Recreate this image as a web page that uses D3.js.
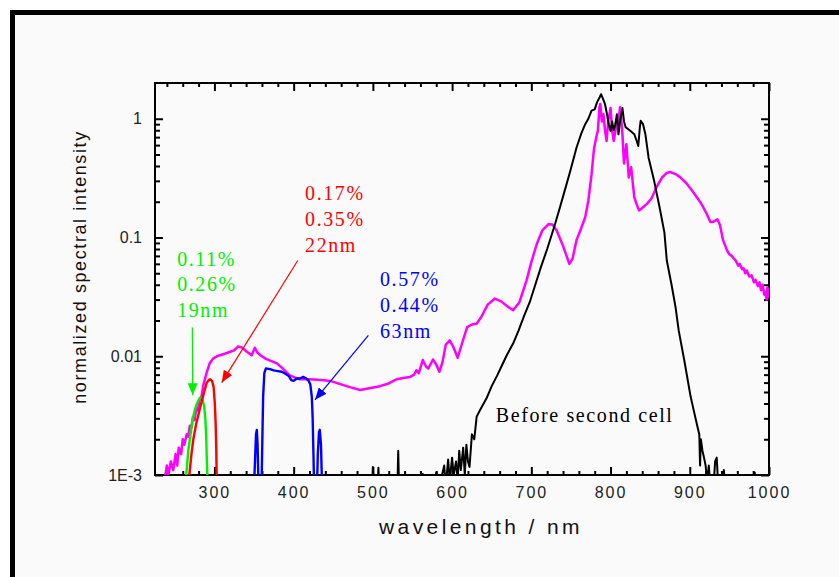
<!DOCTYPE html>
<html>
<head>
<meta charset="utf-8">
<script src="https://cdn.jsdelivr.net/npm/d3@7"></script>
<style>
  body { margin: 0; background: #ffffff; }
  svg { display: block; }
  .axis path, .axis line { stroke: #000; stroke-width: 2; }
  .axis text { font-family: "Liberation Sans", Arial, sans-serif; font-size: 16px; fill: #222; }
  .note { font-family: "Liberation Serif", "Times New Roman", serif; font-size: 20px; letter-spacing: 1.6px; }
</style>
</head>
<body>
<svg id="chart" width="839" height="577"></svg>
<script>
// spectra: [wavelength nm, normalized intensity]
const beforeCell = [
  [480, 0.0008], [499, 0.0008], [500, 0.00117], [501, 0.0008], [506, 0.0008], [507, 0.00115], [508, 0.0008],
  [531, 0.0008], [532, 0.0016], [533, 0.0008], [560, 0.0008], [563, 0.00102], [566, 0.0008], [578, 0.0008],
  [580, 0.00105], [584, 0.0008], [590, 0.0012], [592, 0.0008], [595, 0.00135], [597, 0.0009], [600, 0.0014],
  [602, 0.0010], [605, 0.0013], [607, 0.0009], [609, 0.0016], [611, 0.0011], [614, 0.0017], [616, 0.0010],
  [618, 0.0018], [620, 0.0013], [622, 0.00117], [625, 0.0022], [628, 0.0020], [631, 0.0031], [636, 0.0036],
  [644, 0.0045], [650, 0.0056], [657, 0.0069], [663, 0.0084], [669, 0.0102], [677, 0.0128], [684, 0.0165],
  [691, 0.022], [698, 0.0285], [705, 0.040], [712, 0.056], [720, 0.08], [730, 0.13], [736, 0.178],
  [741, 0.233], [749, 0.36], [757, 0.57], [763, 0.75], [768, 0.90], [772, 1.0], [776, 1.17], [780, 1.2],
  [783, 1.38], [786, 1.50], [788, 1.61], [790, 1.50], [793, 1.33], [796, 1.05], [798, 0.88], [800, 0.79],
  [802, 0.95], [804, 0.80], [806, 0.90], [808, 1.09], [810, 0.74], [812, 0.95], [815, 1.23], [817, 0.95],
  [819, 0.85], [822, 0.82], [826, 0.78], [830, 0.74], [833, 0.65], [835, 0.59], [837, 0.85], [838, 0.96],
  [841, 0.90], [844, 0.74], [848, 0.47], [855, 0.30], [862, 0.178], [868, 0.11], [871, 0.064], [877, 0.04],
  [882, 0.026], [886, 0.0165], [893, 0.0093], [901, 0.0046], [905, 0.0035], [910, 0.0025], [912, 0.0022],
  [913, 0.0012], [914, 0.0020], [916, 0.0016], [918, 0.0014], [920, 0.0012], [922, 0.0009], [924, 0.0012],
  [926, 0.0008], [930, 0.0008], [932, 0.0013], [934, 0.0014], [936, 0.0008], [941, 0.0008], [943, 0.0011],
  [945, 0.0008], [980, 0.0008], [982, 0.00105], [984, 0.0008]
];

const afterCell = [
  [237, 0.0009], [240, 0.0012], [242, 0.0010], [245, 0.0013], [248, 0.0011], [251, 0.0015], [253, 0.0012],
  [255, 0.0017], [258, 0.0015], [260, 0.0020], [262, 0.0018], [265, 0.0022], [267, 0.0021], [269, 0.0026],
  [271, 0.0025], [273, 0.0031], [275, 0.0029], [277, 0.0036], [279, 0.0035], [281, 0.0042], [284, 0.0047],
  [286, 0.0057], [290, 0.0072], [294, 0.0087], [298, 0.0095], [303, 0.0100], [307, 0.0102], [313, 0.0105],
  [320, 0.0109], [325, 0.0112], [330, 0.0121], [335, 0.0118], [341, 0.0109], [347, 0.0102], [351, 0.0118],
  [354, 0.0108], [358, 0.0102], [365, 0.0095], [372, 0.0091], [379, 0.0087], [387, 0.0078], [395, 0.0069],
  [402, 0.0066], [408, 0.0064], [420, 0.0064], [435, 0.0063], [446, 0.0062], [460, 0.0058], [471, 0.0055],
  [484, 0.0052], [497, 0.0054], [509, 0.0056], [520, 0.0059], [530, 0.0064], [540, 0.0066], [547, 0.0067],
  [552, 0.0070], [555, 0.0076], [558, 0.0072], [563, 0.0093], [567, 0.0082], [570, 0.0079], [573, 0.0086],
  [576, 0.0094], [580, 0.0085], [584, 0.0074], [588, 0.0090], [592, 0.0125], [597, 0.0136], [602, 0.0118],
  [607, 0.0097], [612, 0.0125], [619, 0.0176], [625, 0.0185], [631, 0.0188], [637, 0.0215], [645, 0.0272],
  [654, 0.0306], [662, 0.0290], [670, 0.0262], [677, 0.0244], [685, 0.0285], [694, 0.0435], [700, 0.062],
  [707, 0.0886], [714, 0.115], [722, 0.130], [727, 0.128], [732, 0.1145], [740, 0.085], [748, 0.060],
  [752, 0.066], [757, 0.095], [762, 0.115], [768, 0.148], [772, 0.205], [776, 0.34], [779, 0.55],
  [782, 0.70], [784, 0.79], [786, 1.25], [787, 1.33], [789, 0.95], [791, 1.09], [793, 0.80], [795, 0.65],
  [797, 0.95], [800, 1.23], [802, 0.80], [804, 0.65], [807, 0.85], [810, 0.96], [812, 1.25], [814, 0.90],
  [815, 0.74], [817, 0.42], [820, 0.61], [823, 0.32], [826, 0.39], [830, 0.218], [833, 0.19], [836, 0.169],
  [841, 0.180], [846, 0.192], [852, 0.215], [858, 0.265], [865, 0.320], [871, 0.350], [875, 0.356],
  [882, 0.342], [888, 0.321], [896, 0.285], [903, 0.248], [909, 0.218], [915, 0.190], [921, 0.160],
  [926, 0.135], [930, 0.136], [935, 0.142], [938, 0.128], [942, 0.095], [947, 0.078], [950, 0.072],
  [953, 0.070], [956, 0.066], [958, 0.064], [961, 0.058], [963, 0.060], [966, 0.054], [968, 0.055],
  [970, 0.050], [972, 0.0528], [975, 0.047], [978, 0.048], [981, 0.042], [983, 0.044], [986, 0.039],
  [988, 0.042], [990, 0.036], [992, 0.040], [994, 0.033], [995, 0.035], [997, 0.030], [998, 0.038],
  [1000, 0.031]
];

const greenPulse = [
  [263, 0.0008], [265, 0.0011], [267, 0.0016], [269, 0.0020], [272, 0.0028], [275, 0.0035], [278, 0.0040],
  [281, 0.0044], [283, 0.0045], [285, 0.0043], [287, 0.0038], [288.5, 0.0030], [289.5, 0.0022],
  [290.5, 0.0013], [291.5, 0.0008]
];

const redPulse = [
  [267, 0.0008], [269, 0.0011], [271, 0.0015], [273.4, 0.0020], [277, 0.0027], [282, 0.0037], [286, 0.0047],
  [290, 0.0059], [292, 0.0062], [294.4, 0.0064], [297, 0.0062], [299, 0.0055], [300.5, 0.0040],
  [301.5, 0.0028], [302.3, 0.0017], [303, 0.0008]
];

const bluePulse = [
  [350, 0.0008], [351, 0.0012], [352.5, 0.0022], [353.5, 0.0024], [354.5, 0.0018], [355.5, 0.0009],
  [356, 0.0008], [359.5, 0.0008], [360.5, 0.0020], [361.5, 0.0046], [363, 0.0072], [365, 0.0079],
  [370, 0.0078], [375, 0.0076], [380, 0.0075], [385, 0.0074], [390, 0.0071], [394, 0.0068], [397, 0.0063],
  [400, 0.0062], [404, 0.0065], [408, 0.0065], [412, 0.0067], [416, 0.0065], [419, 0.0062], [421, 0.0058],
  [423, 0.0045], [424, 0.0030], [425, 0.0015], [425.8, 0.0008], [429.5, 0.0008], [430.5, 0.0015],
  [432, 0.0023], [433, 0.0024], [434.5, 0.0018], [435.5, 0.0010], [436.5, 0.0008]
];

const xMajorTicks = [300, 400, 500, 600, 700, 800, 900, 1000];
const yMajorTicks = [0.001, 0.01, 0.1, 1];
const yTickLabels = ["1E-3", "0.01", "0.1", "1"];

const greenNote = ["0.11%", "0.26%", "19nm"];
const redNote = ["0.17%", "0.35%", "22nm"];
const blueNote = ["0.57%", "0.44%", "63nm"];
const curveNote = "Before second cell";

const svg = d3.select("#chart");
const W = 839, H = 577;
const plot = {left: 155, top: 83, right: 769, bottom: 475};

// frame
svg.append("rect").attr("x", 12.5).attr("y", 12.5).attr("width", W).attr("height", H)
  .attr("fill", "#fafafa").attr("stroke", "#000").attr("stroke-width", 5);

const x = d3.scaleLinear().domain([225, 1000]).range([plot.left, plot.right]);
const y = d3.scaleLog().domain([0.001, 2]).range([plot.bottom, plot.top]);

const xMinor = d3.range(240, 1001, 20).filter(v => v % 100 !== 0);
const yMinor = [];
[0.001, 0.01, 0.1, 1].forEach(d => d3.range(2, 10).forEach(k => { if (k * d < 2) yMinor.push(k * d); }));

svg.append("defs").append("clipPath").attr("id", "clip")
  .append("rect").attr("x", plot.left).attr("y", plot.top)
  .attr("width", plot.right - plot.left).attr("height", plot.bottom - plot.top);

const g = svg.append("g");

function addAxis(axis, transform) {
  const a = g.append("g").attr("class", "axis").attr("transform", transform).call(axis);
  a.select(".domain").remove();
  return a;
}

// bottom
addAxis(d3.axisBottom(x).tickValues(xMajorTicks).tickSize(-8).tickPadding(12).tickFormat(d3.format("d")),
  `translate(0,${plot.bottom})`)
  .selectAll("text").attr("letter-spacing", "2px");
addAxis(d3.axisBottom(x).tickValues(xMinor).tickSize(-4).tickFormat(""), `translate(0,${plot.bottom})`);
// top
addAxis(d3.axisTop(x).tickValues(xMajorTicks).tickSize(-8).tickFormat(""), `translate(0,${plot.top})`);
addAxis(d3.axisTop(x).tickValues(xMinor).tickSize(-4).tickFormat(""), `translate(0,${plot.top})`);
// left
addAxis(d3.axisLeft(y).tickValues(yMajorTicks).tickSize(-8).tickPadding(13)
  .tickFormat((d, i) => yTickLabels[i]), `translate(${plot.left},0)`);
addAxis(d3.axisLeft(y).tickValues(yMinor).tickSize(-5).tickFormat(""), `translate(${plot.left},0)`);
// right
addAxis(d3.axisRight(y).tickValues(yMajorTicks).tickSize(-8).tickFormat(""), `translate(${plot.right},0)`);
addAxis(d3.axisRight(y).tickValues(yMinor).tickSize(-5).tickFormat(""), `translate(${plot.right},0)`);

g.append("rect").attr("x", plot.left).attr("y", plot.top)
  .attr("width", plot.right - plot.left).attr("height", plot.bottom - plot.top)
  .attr("fill", "none").attr("stroke", "#000").attr("stroke-width", 2);

// spectra
const line = d3.line().x(d => x(d[0])).y(d => y(d[1]));
const series = [
  {data: afterCell, color: "#ff00ff", width: 2.5},
  {data: beforeCell, color: "#000000", width: 2},
  {data: greenPulse, color: "#00f000", width: 2.4},
  {data: redPulse, color: "#ff0000", width: 2.4},
  {data: bluePulse, color: "#0000ff", width: 2.4}
];
const lines = g.append("g").attr("clip-path", "url(#clip)");
series.forEach(s => {
  lines.append("path").datum(s.data).attr("d", line)
    .attr("fill", "none").attr("stroke", s.color).attr("stroke-width", s.width)
    .attr("stroke-linejoin", "round");
});

// arrows
const defs = svg.select("defs");
[["green", "#00f000"], ["red", "#ff0000"], ["blue", "#0000ff"]].forEach(([id, c]) => {
  defs.append("marker").attr("id", "arrow-" + id).attr("viewBox", "0 0 12 10")
    .attr("refX", 12).attr("refY", 5).attr("markerWidth", 12).attr("markerHeight", 10)
    .attr("markerUnits", "userSpaceOnUse").attr("orient", "auto")
    .append("path").attr("d", "M0,0L12,5L0,10Z").attr("fill", c);
});

const arrows = [
  {from: [272.1, 0.0175], to: [272.6, 0.0047], id: "green", color: "#00f000"},
  {from: [405.2, 0.064], to: [309.2, 0.006], id: "red", color: "#ff0000"},
  {from: [494.3, 0.015], to: [427, 0.0043], id: "blue", color: "#0000ff"}
];
arrows.forEach(a => {
  g.append("line")
    .attr("x1", x(a.from[0])).attr("y1", y(a.from[1]))
    .attr("x2", x(a.to[0])).attr("y2", y(a.to[1]))
    .attr("stroke", a.color).attr("stroke-width", 1.2)
    .attr("marker-end", `url(#arrow-${a.id})`);
});

// notes
function addNote(lines, at, color) {
  const t = g.append("text").attr("class", "note").attr("fill", color)
    .attr("x", x(at[0])).attr("y", y(at[1]));
  lines.forEach((s, i) => t.append("tspan").attr("x", x(at[0])).attr("dy", i ? 25.6 : 0).text(s));
}
addNote(greenNote, [253, 0.058], "#00f000");
addNote(redNote, [414.4, 0.205], "#ff0000");
addNote(blueNote, [509, 0.0387], "#0000ff");
addNote([curveNote], [655.2, 0.0028], "#000");

// axis titles
svg.append("text").attr("x", 481).attr("y", 534).attr("text-anchor", "middle")
  .attr("font-family", "Liberation Sans, Arial, sans-serif").attr("font-size", 21)
  .attr("letter-spacing", "3.4px").attr("fill", "#111").text("wavelength / nm");
svg.append("text").attr("transform", "translate(86,267) rotate(-90)").attr("text-anchor", "middle")
  .attr("font-family", "Liberation Sans, Arial, sans-serif").attr("font-size", 18)
  .attr("letter-spacing", "1.6px").attr("fill", "#111").text("normalized spectral intensity");
</script>
</body>
</html>
